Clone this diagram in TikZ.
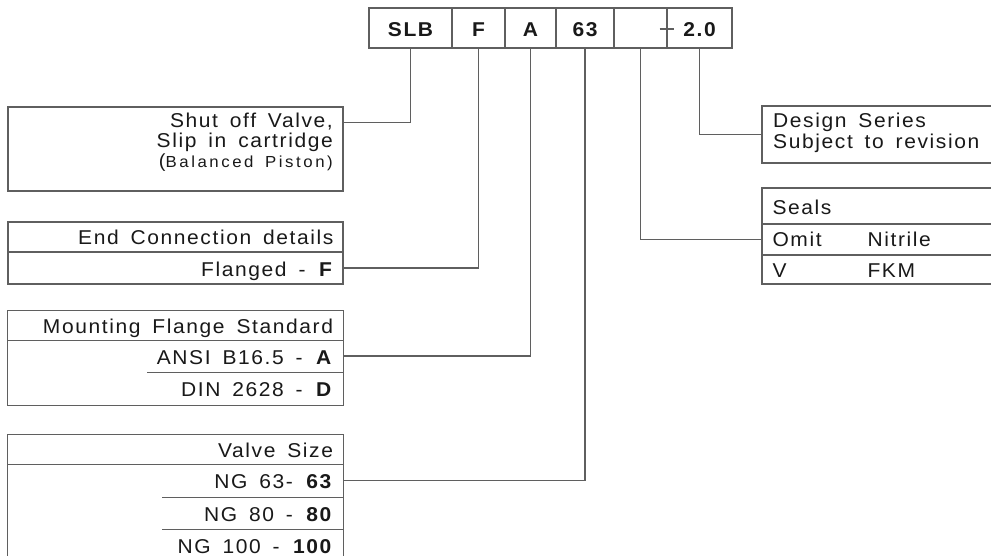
\documentclass[tikz,border=0pt]{standalone}
\usepackage{fontspec}
\setmainfont{Liberation Sans}[FakeStretch=1.05,LetterSpace=8,WordSpace=1.6]
\definecolor{linegray}{RGB}{95,95,95}
\definecolor{txt}{RGB}{25,25,25}
\begin{document}
\begin{tikzpicture}[x=1pt,y=-1pt,
  ln/.style={draw=linegray,line width=1.3pt},
  conn/.style={draw=linegray,line width=1.3pt},
  cell/.style={ln,minimum height=40pt,inner sep=0pt,text height=18pt,text depth=0pt,
    font=\fontsize{20}{24}\selectfont\bfseries,text=txt},
  lrow/.style={minimum width=335pt,inner sep=0pt},
  rrow/.style={minimum width=238pt,inner sep=0pt},
  tx/.style={inner sep=0pt,font=\fontsize{20}{22}\selectfont,text=txt},
  ltx/.style={tx,anchor=base east},
  rtx/.style={tx,anchor=base west}]
\useasboundingbox (0,0) rectangle (991,556);
\fill[white] (0,0) rectangle (991,556);
\clip (0,0) rectangle (991,556);

% type code cells
\node[cell,minimum width=83pt] (slb) at (410.5,28) {SLB};
\node[cell,minimum width=53pt] (f) at (478.5,28) {F};
\node[cell,minimum width=51pt] (a) at (530.5,28) {A};
\node[cell,minimum width=58pt] (s63) at (585,28) {63};
\node[cell,minimum width=53pt] (seal) at (640.5,28) {};
\node[cell,minimum width=65pt] (ver) at (699.5,28) {2.0};
\draw[ln] ([xshift=-8pt,yshift=-1pt]seal.east) -- ([xshift=6pt,yshift=-1pt]seal.east);

% box 1
\node[ln,lrow,minimum height=84pt] (shutbox) at (175.5,149) {};
\node[ltx] (shut1) at (333,128) {Shut off Valve,};
\node[ltx] (shut2) at (333,147.5) {Slip in cartridge};
\node[ltx] (shut3) at (333,167.5) {{\fontsize{19}{20}\selectfont(}{\fontsize{16}{20}\selectfont\addfontfeatures{LetterSpace=16}Balanced Piston)}};

% box 2
\node[ln,lrow,minimum height=30pt] (endhead) at (175.5,237) {};
\node[ln,lrow,minimum height=32pt] (flanged) at (175.5,268) {};
\node[ltx] (t-end) at ([xshift=-10pt,yshift=-7.5pt]endhead.east) {End Connection details};
\node[ltx] (t-fl) at ([xshift=-10pt,yshift=-8.5pt]flanged.east) {Flanged - \textbf{F}};

% box 3
\node[lrow,minimum height=29pt] (mhead) at (175.5,325.5) {};
\node[lrow,minimum height=32pt] (ansi) at (175.5,356) {};
\node[lrow,minimum height=33pt] (din) at (175.5,388.5) {};
\draw[ln] (mhead.north west) rectangle (din.south east);
\draw[ln] (mhead.south west) -- (mhead.south east);
\draw[ln] (ansi.south east) -- ++(-196,0);
\node[ltx] (t-mh) at ([xshift=-10pt,yshift=-7.5pt]mhead.east) {Mounting Flange Standard};
\node[ltx] (t-ansi) at ([xshift=-10pt,yshift=-8pt]ansi.east) {ANSI B16.5 - \textbf{A}};
\node[ltx] (t-din) at ([xshift=-10pt,yshift=-8pt]din.east) {DIN 2628 - \textbf{D}};

% box 4
\node[lrow,minimum height=29pt] (vhead) at (175.5,449.5) {};
\node[lrow,minimum height=33pt] (ng63) at (175.5,480.5) {};
\node[lrow,minimum height=32pt] (ng80) at (175.5,513) {};
\node[lrow,minimum height=32pt] (ng100) at (175.5,545) {};
\draw[ln] (vhead.north west) rectangle (ng100.south east);
\draw[ln] (vhead.south west) -- (vhead.south east);
\draw[ln] (ng63.south east) -- ++(-181,0);
\draw[ln] (ng80.south east) -- ++(-181,0);
\node[ltx] (t-vh) at ([xshift=-10pt,yshift=-7.5pt]vhead.east) {Valve Size};
\node[ltx] (t-63) at ([xshift=-10pt,yshift=-8pt]ng63.east) {NG 63- \textbf{63}};
\node[ltx] (t-80) at ([xshift=-10pt,yshift=-8pt]ng80.east) {NG 80 - \textbf{80}};
\node[ltx] (t-100) at ([xshift=-10pt,yshift=-8pt]ng100.east) {NG 100 - \textbf{100}};

% right boxes
\node[ln,rrow,minimum height=57pt] (design) at (881,134.5) {};
\node[rtx] (t-ds) at (773,128) {Design Series};
\node[rtx] (t-sr) at (773,149) {Subject to revision};
\node[ln,rrow,minimum height=36pt] (shead) at (881,206) {};
\node[ln,rrow,minimum height=31pt] (omit) at (881,239.5) {};
\node[ln,rrow,minimum height=29pt] (vrow) at (881,269.5) {};
\node[rtx] (t-seals) at ([xshift=11pt,yshift=-8.5pt]shead.west) {Seals};
\node[rtx] (t-omit) at ([xshift=11pt,yshift=-7.5pt]omit.west) {Omit};
\node[rtx] (t-nit) at ([xshift=106pt,yshift=-7.5pt]omit.west) {Nitrile};
\node[rtx] (t-v) at ([xshift=11pt,yshift=-7.5pt]vrow.west) {V};
\node[rtx] (t-fkm) at ([xshift=106pt,yshift=-7.5pt]vrow.west) {FKM};

% connectors
\draw[conn] (slb.south) |- ([yshift=-16pt]shutbox.north east);
\draw[conn] (f.south) |- (flanged.east);
\draw[conn] (a.south) |- (ansi.east);
\draw[conn] (s63.south) |- (ng63.east);
\draw[conn] (seal.south) |- (omit.west);
\draw[conn] (ver.south) |- (design.west);
\end{tikzpicture}
\end{document}
